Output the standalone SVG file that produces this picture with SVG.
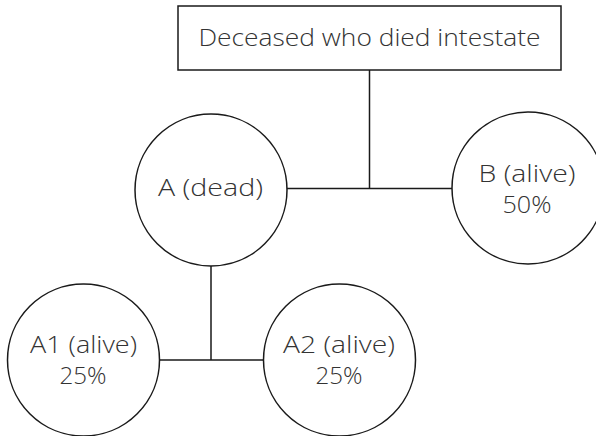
<svg xmlns="http://www.w3.org/2000/svg" width="596" height="436" viewBox="0 0 596 436">
<style>
.n{fill:#fff;stroke:#1a1a1a;stroke-width:1.5}
.c{stroke:#1a1a1a;stroke-width:1.5;fill:none}
text{font-family:"Open Sans","Liberation Sans",sans-serif;font-weight:300;font-size:23px;fill:#333;text-anchor:middle}
</style>
<rect width="596" height="436" fill="#fff"/>
<g id="connectors">
<path class="c" d="M369.5 70V188.5M287 188.5H452"/>
<path class="c" d="M211 266V360M159 360H263"/>
</g>
<g id="deceased">
<rect class="n" x="178" y="6" width="383" height="64"/>
<text x="369.5" y="46" textLength="342" lengthAdjust="spacingAndGlyphs">Deceased who died intestate</text>
</g>
<g id="A">
<circle class="n" cx="211" cy="190" r="76"/>
<text x="210.5" y="195.5" textLength="105" lengthAdjust="spacingAndGlyphs">A (dead)</text>
</g>
<g id="B">
<circle class="n" cx="528" cy="188" r="76"/>
<text x="527" y="181.5" textLength="97" lengthAdjust="spacingAndGlyphs">B (alive)</text>
<text x="527" y="213" textLength="49" lengthAdjust="spacingAndGlyphs">50%</text>
</g>
<g id="A1">
<circle class="n" cx="83.5" cy="360" r="76"/>
<text x="83.5" y="353" textLength="107" lengthAdjust="spacingAndGlyphs">A1 (alive)</text>
<text x="83" y="384" textLength="47" lengthAdjust="spacingAndGlyphs">25%</text>
</g>
<g id="A2">
<circle class="n" cx="339.5" cy="360" r="76"/>
<text x="339" y="353" textLength="112" lengthAdjust="spacingAndGlyphs">A2 (alive)</text>
<text x="339" y="384" textLength="47" lengthAdjust="spacingAndGlyphs">25%</text>
</g>
</svg>
